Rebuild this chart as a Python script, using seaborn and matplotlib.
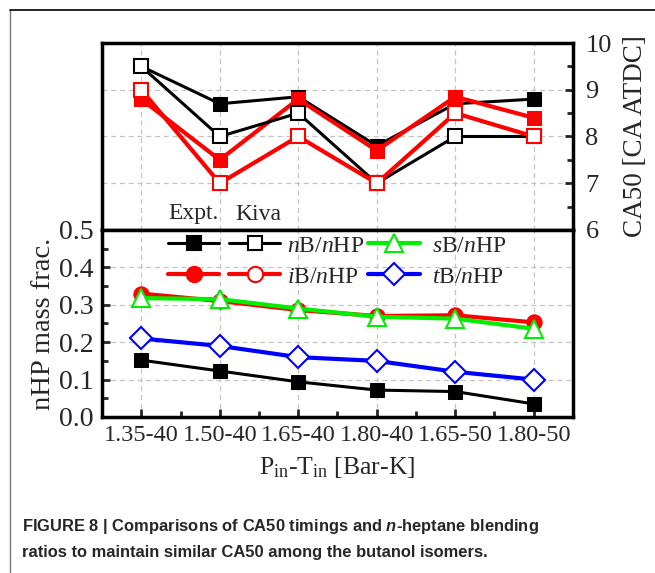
import numpy as np
import pandas as pd
import matplotlib
matplotlib.use("Agg")
import matplotlib.pyplot as plt
import seaborn as sns
from matplotlib.lines import Line2D
from matplotlib.legend_handler import HandlerTuple
from matplotlib.ticker import MultipleLocator, FixedLocator

# ---------------- data ----------------
conditions = ["1.35-40", "1.50-40", "1.65-40", "1.80-40", "1.65-50", "1.80-50"]

ca50_nB_expt = [9.5, 8.7, 8.85, 7.8, 8.7, 8.8]
ca50_nB_kiva = [9.5, 8.0, 8.5, 7.0, 8.0, 8.0]
ca50_iB_expt = [8.8, 7.5, 8.8, 7.7, 8.85, 8.4]
ca50_iB_kiva = [9.0, 7.0, 8.0, 7.0, 8.5, 8.0]

frac_nB = [0.152, 0.123, 0.094, 0.072, 0.068, 0.035]
frac_iB = [0.330, 0.310, 0.286, 0.270, 0.272, 0.253]
frac_sB = [0.318, 0.315, 0.290, 0.268, 0.263, 0.236]
frac_tB = [0.210, 0.190, 0.160, 0.150, 0.121, 0.100]

# ---------------- style ----------------
sns.set_theme(style="white")
plt.rcParams["font.family"] = ["Liberation Serif", "DejaVu Serif"]
plt.rcParams["mathtext.fontset"] = "custom"
plt.rcParams["mathtext.rm"] = "Liberation Serif"
plt.rcParams["mathtext.it"] = "Liberation Serif:italic"
plt.rcParams["mathtext.bfit"] = "Liberation Sans:italic:bold"
plt.rcParams["mathtext.bf"] = "Liberation Sans:bold"

W, H = 655, 573
fig = plt.figure(figsize=(W / 100, H / 100), dpi=100)
fig.patch.set_facecolor("white")

L, R = 102 / W, 573 / W
y_top, y_mid, y_bot = 1 - 43 / H, 1 - 230 / H, 1 - 417 / H
ax_t = fig.add_axes([L, y_mid, R - L, y_top - y_mid])
ax_b = fig.add_axes([L, y_bot, R - L, y_mid - y_bot], sharex=ax_t)

x = np.arange(len(conditions))
top_df = pd.DataFrame({"x": x, "nBe": ca50_nB_expt, "nBk": ca50_nB_kiva,
                       "iBe": ca50_iB_expt, "iBk": ca50_iB_kiva})
bot_df = pd.DataFrame({"x": x, "nB": frac_nB, "iB": frac_iB,
                       "sB": frac_sB, "tB": frac_tB})

# top panel (CA50)
sns.lineplot(data=top_df, x="x", y="nBe", ax=ax_t, color="black", lw=2.2,
             marker="s", markersize=10, markerfacecolor="black",
             markeredgecolor="black", zorder=3)
sns.lineplot(data=top_df, x="x", y="iBe", ax=ax_t, color="red", lw=3,
             marker="s", markersize=10, markerfacecolor="red",
             markeredgecolor="red", zorder=4)
sns.lineplot(data=top_df, x="x", y="nBk", ax=ax_t, color="black", lw=2.2,
             marker="s", markersize=10, markerfacecolor="white",
             markeredgecolor="black", markeredgewidth=1.5, zorder=5)
sns.lineplot(data=top_df, x="x", y="iBk", ax=ax_t, color="red", lw=3,
             marker="s", markersize=10, markerfacecolor="white",
             markeredgecolor="red", markeredgewidth=1.5, zorder=6)

# bottom panel (mass fraction)
sns.lineplot(data=bot_df, x="x", y="nB", ax=ax_b, color="black", lw=2.2,
             marker="s", markersize=10, markerfacecolor="black",
             markeredgecolor="black", zorder=3)
sns.lineplot(data=bot_df, x="x", y="iB", ax=ax_b, color="red", lw=3,
             marker="o", markersize=11, markerfacecolor="red",
             markeredgecolor="red", zorder=4)
sns.lineplot(data=bot_df, x="x", y="sB", ax=ax_b, color="#00ee00", lw=3,
             marker="^", markersize=13, markerfacecolor="white",
             markeredgecolor="#00ee00", markeredgewidth=1.5, zorder=5)
sns.lineplot(data=bot_df, x="x", y="tB", ax=ax_b, color="blue", lw=3,
             marker="D", markersize=11, markerfacecolor="white",
             markeredgecolor="blue", markeredgewidth=1.5, zorder=6)

for ax in (ax_t, ax_b):
    ax.set_xlim(-0.5, 5.5)
    for sp in ax.spines.values():
        sp.set_linewidth(2.5)
        sp.set_color("black")
    ax.grid(True, color="#c4c4c4", ls=(0, (4, 3)), lw=0.9)
    ax.set_axisbelow(True)
    ax.set_xlabel("")
    ax.set_ylabel("")

# top axis: right ticks only
ax_t.set_ylim(6, 10)
ax_t.yaxis.set_major_locator(MultipleLocator(1))
ax_t.yaxis.set_minor_locator(MultipleLocator(0.5))
ax_t.yaxis.tick_right()
ax_t.yaxis.set_label_position("right")
ax_t.tick_params(axis="y", which="both", direction="in", right=True, left=False,
                 labelright=True, labelleft=False, labelsize=19, pad=9, width=2)
ax_t.tick_params(axis="y", which="major", length=6)
ax_t.tick_params(axis="y", which="minor", length=4)
ax_t.tick_params(axis="x", which="both", bottom=False, top=False, labelbottom=False)
ax_t.set_ylabel("CA50 [CA ATDC]", fontsize=19.5, labelpad=8)

# bottom axis: left ticks only
ax_b.set_ylim(0, 0.5)
ax_b.yaxis.set_major_locator(MultipleLocator(0.1))
ax_b.yaxis.set_minor_locator(MultipleLocator(0.05))
ax_b.yaxis.set_major_formatter(matplotlib.ticker.FormatStrFormatter("%.1f"))
ax_b.set_xticks(x)
ax_b.set_xticklabels(conditions)
ax_b.xaxis.set_minor_locator(FixedLocator(x[:-1] + 0.5))
ax_b.tick_params(axis="both", which="both", direction="in", width=2)
ax_b.tick_params(axis="y", which="both", left=True, right=False, labelsize=20, pad=6)
ax_b.tick_params(axis="x", which="both", bottom=True, top=False, labelsize=17.5, pad=6)
ax_b.tick_params(which="major", length=6)
ax_b.tick_params(which="minor", length=4)
ax_b.set_ylabel("nHP mass frac.", fontsize=20.5, labelpad=2)
ax_b.set_xlabel(r"P$_{\mathrm{in}}$-T$_{\mathrm{in}}$ [Bar-K]", fontsize=18.5, labelpad=6)

# legends
def proxy(color, marker, ms, face, lw):
    return Line2D([], [], color=color, lw=lw, marker=marker, markersize=ms,
                  markerfacecolor=face, markeredgecolor=color, markeredgewidth=1.5)

h_nB = (proxy("black", "s", 10, "black", 2.2), proxy("black", "s", 10, "white", 2.2))
h_iB = (proxy("red", "o", 11, "red", 3), proxy("red", "o", 11, "white", 3))
leg1 = ax_b.legend([h_nB, h_iB], [r"$n$B/$n$HP", r"$i$B/$n$HP"],
                   handler_map={tuple: HandlerTuple(ndivide=None, pad=0.42)},
                   loc="upper left", bbox_to_anchor=(168 / W, 1 - 235 / H),
                   bbox_transform=fig.transFigure, frameon=False, fontsize=17,
                   handlelength=4.75, handletextpad=0.3, labelspacing=0.4,
                   borderpad=0, borderaxespad=0)
ax_b.add_artist(leg1)
h_sB = proxy("#00ee00", "^", 13, "white", 3)
h_tB = proxy("blue", "D", 11, "white", 3)
ax_b.legend([h_sB, h_tB], [r"$s$B/$n$HP", r"$t$B/$n$HP"],
            loc="upper left", bbox_to_anchor=(368 / W, 1 - 235 / H),
            bbox_transform=fig.transFigure, frameon=False, fontsize=17,
            handlelength=2.2, handletextpad=0.5, labelspacing=0.4,
            borderpad=0, borderaxespad=0)

fig.text(193 / W, 1 - 214 / H, "Expt.", fontsize=17, ha="center", va="center")
fig.text(258 / W, 1 - 214 / H, "Kiva", fontsize=17, ha="center", va="center")

# caption
fig.text(22 / W, 1 - 527 / H,
         r"FIGURE 8 | Comparisons of CA50 timings and $\mathbfit{n}$-heptane blending",
         fontsize=11.9, fontweight="bold", family="Liberation Sans", va="center")
fig.text(22 / W, 1 - 552 / H,
         "ratios to maintain similar CA50 among the butanol isomers.",
         fontsize=11.9, fontweight="bold", family="Liberation Sans", va="center")

# outer frame lines
fig.add_artist(Line2D([10 / W, 10 / W], [0, 1 - 10 / H], transform=fig.transFigure,
                      color="#777777", lw=1))
fig.add_artist(Line2D([10 / W, 1], [1 - 10 / H, 1 - 10 / H], transform=fig.transFigure,
                      color="black", lw=1.2))

fig.savefig("out.png", dpi=100)
